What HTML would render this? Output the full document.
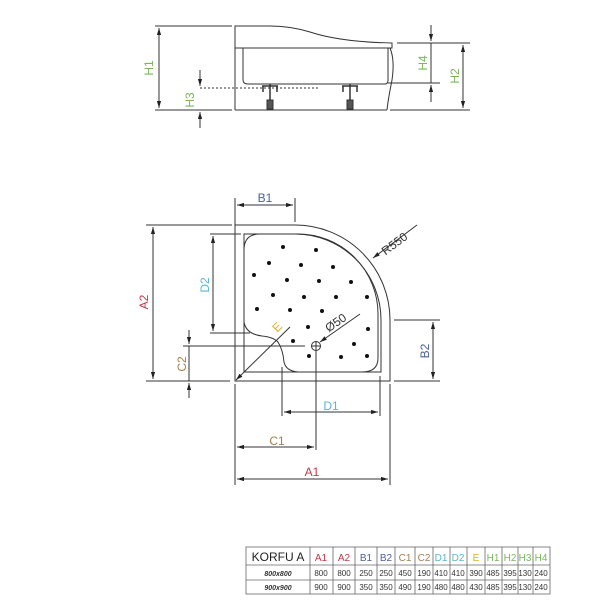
<!DOCTYPE html>
<html><head><style>body{margin:0;background:#fff}svg{display:block}</style></head><body>
<svg width="600" height="600" viewBox="0 0 600 600" xmlns="http://www.w3.org/2000/svg" font-family="Liberation Sans, sans-serif">
<defs>
<marker id="a" viewBox="0 0 10 10" refX="10" refY="5" markerWidth="7" markerHeight="7" orient="auto-start-reverse"><path d="M0,2 L10,5 L0,8 z" fill="#222"/></marker>
</defs>
<g stroke="#333" stroke-width="1" fill="none">
<path d="M235,26 L235,48 L392,48 L392,43 Q340,42 310,32 Q290,26 270,26 Z" fill="#fff"/>
<path d="M243,48 L243,80 Q243,84 248,84 L385,84 Q388,84 388,80 L388,48"/>
<path d="M390,48 Q395,60 392,80 Q388,100 387,110"/>
<line x1="235" y1="110" x2="387" y2="110"/>
<line x1="235" y1="48" x2="235" y2="110"/>
<line x1="155" y1="26" x2="232" y2="26"/>
<line x1="155" y1="110" x2="232" y2="110"/>
<line x1="159" y1="28" x2="159" y2="108" marker-start="url(#a)" marker-end="url(#a)"/>
<line x1="200" y1="70" x2="200" y2="86" marker-end="url(#a)"/>
<line x1="200" y1="128" x2="200" y2="112" marker-end="url(#a)"/>
<line x1="200" y1="88" x2="320" y2="88" stroke-dasharray="2,2"/>
<line x1="397" y1="43" x2="470" y2="43"/>
<line x1="388" y1="83" x2="440" y2="83"/>
<line x1="390" y1="110" x2="470" y2="110"/>
<line x1="431" y1="25" x2="431" y2="41" marker-end="url(#a)"/>
<line x1="431" y1="102" x2="431" y2="85" marker-end="url(#a)"/>
<line x1="431" y1="43" x2="431" y2="83"/>
<line x1="463" y1="45" x2="463" y2="108" marker-start="url(#a)" marker-end="url(#a)"/>
<g stroke="#333" stroke-width="1.5">
<line x1="270" y1="84" x2="270" y2="108"/><line x1="263" y1="86" x2="263" y2="92"/><line x1="277" y1="86" x2="277" y2="92"/><line x1="262" y1="86" x2="278" y2="86"/>
<line x1="350" y1="84" x2="350" y2="108"/><line x1="343" y1="86" x2="343" y2="92"/><line x1="357" y1="86" x2="357" y2="92"/><line x1="342" y1="86" x2="358" y2="86"/>
</g>
<rect x="267" y="100" width="6" height="9" fill="#555"/><rect x="347" y="100" width="6" height="9" fill="#555"/>

<path d="M235,225 L295,225 A95,95 0 0 1 390,320 L390,381 L235,381 Z"/>
<path d="M244,234 L295,234 A86,86 0 0 1 381,320 L381,372 L244,372 Z"/>
<path d="M260,234 L298,234 A80,80 0 0 1 378,314 L378,358 Q378,372 362,372 L298,372 Q286,371 284,362 Q283,350 278,342 Q273,337 262,336 Q246,334 244,322 L244,250 Q244,234 260,234 Z"/>
<line x1="235" y1="198" x2="235" y2="225"/>
<line x1="295" y1="198" x2="295" y2="222"/>
<line x1="237" y1="205" x2="293" y2="205" marker-start="url(#a)" marker-end="url(#a)"/>
<line x1="146" y1="225" x2="232" y2="225"/>
<line x1="146" y1="381" x2="230" y2="381"/>
<line x1="153" y1="227" x2="153" y2="379" marker-start="url(#a)" marker-end="url(#a)"/>
<line x1="210" y1="234" x2="241" y2="234"/>
<line x1="210" y1="333" x2="250" y2="333"/>
<line x1="213" y1="236" x2="213" y2="331" marker-start="url(#a)" marker-end="url(#a)"/>
<line x1="183" y1="346" x2="305" y2="346"/>
<line x1="189" y1="330" x2="189" y2="344" marker-end="url(#a)"/>
<line x1="189" y1="398" x2="189" y2="383" marker-end="url(#a)"/>
<line x1="189" y1="346" x2="189" y2="381"/>
<line x1="236" y1="380" x2="290" y2="327" marker-start="url(#a)"/>
<line x1="360" y1="314" x2="320" y2="342" marker-end="url(#a)"/>
<circle cx="316" cy="346" r="4.5"/>
<line x1="311" y1="346" x2="321" y2="346"/><line x1="316" y1="341" x2="316" y2="351"/>
<line x1="417" y1="225" x2="373" y2="258" marker-end="url(#a)"/>
<line x1="394" y1="320" x2="440" y2="320"/>
<line x1="394" y1="381" x2="440" y2="381"/>
<line x1="433" y1="322" x2="433" y2="379" marker-start="url(#a)" marker-end="url(#a)"/>
<line x1="282" y1="367" x2="282" y2="416"/>
<line x1="380" y1="376" x2="380" y2="416"/>
<line x1="284" y1="412" x2="378" y2="412" marker-start="url(#a)" marker-end="url(#a)"/>
<line x1="316" y1="351" x2="316" y2="450"/>
<line x1="235" y1="384" x2="235" y2="485"/>
<line x1="390" y1="384" x2="390" y2="485"/>
<line x1="237" y1="447" x2="314" y2="447" marker-start="url(#a)" marker-end="url(#a)"/>
<line x1="237" y1="479" x2="388" y2="479" marker-start="url(#a)" marker-end="url(#a)"/>
</g>
<g fill="#111">
<circle cx="283" cy="247" r="2"/><circle cx="316" cy="250" r="2"/><circle cx="269" cy="263" r="2"/><circle cx="301" cy="265" r="2"/><circle cx="333" cy="267" r="2"/><circle cx="254" cy="275" r="2"/><circle cx="287" cy="280" r="2"/><circle cx="319" cy="281" r="2"/><circle cx="351" cy="282" r="2"/><circle cx="273" cy="295" r="2"/><circle cx="304" cy="297" r="2"/><circle cx="336" cy="297" r="2"/><circle cx="367" cy="297" r="2"/><circle cx="257" cy="309" r="2"/><circle cx="290" cy="310" r="2"/><circle cx="322" cy="311" r="2"/><circle cx="308" cy="327" r="2"/><circle cx="368" cy="329" r="2"/><circle cx="293" cy="341" r="2"/><circle cx="354" cy="344" r="2"/><circle cx="309" cy="356" r="2"/><circle cx="341" cy="357" r="2"/><circle cx="367" cy="356" r="2"/>
</g>
<g font-size="12">
<text transform="translate(153,68) rotate(-90)" text-anchor="middle" fill="#7ab55c">H1</text>
<text transform="translate(194,100) rotate(-90)" text-anchor="middle" fill="#7ab55c">H3</text>
<text transform="translate(427,63) rotate(-90)" text-anchor="middle" fill="#7ab55c">H4</text>
<text transform="translate(459,76) rotate(-90)" text-anchor="middle" fill="#7ab55c">H2</text>
<text x="265" y="202" text-anchor="middle" fill="#4a5fa0">B1</text>
<text transform="translate(148,302) rotate(-90)" text-anchor="middle" fill="#c0394b">A2</text>
<text transform="translate(209,285) rotate(-90)" text-anchor="middle" fill="#5ab4d0">D2</text>
<text transform="translate(186,364) rotate(-90)" text-anchor="middle" fill="#a08050">C2</text>
<text transform="translate(280,330) rotate(-45)" text-anchor="middle" fill="#e0b020">E</text>
<text transform="translate(338,326) rotate(-35)" text-anchor="middle" fill="#333">Ø50</text>
<text transform="translate(397,247) rotate(-37)" text-anchor="middle" fill="#333">R550</text>
<text transform="translate(429,351) rotate(-90)" text-anchor="middle" fill="#4a5fa0">B2</text>
<text x="331" y="410" text-anchor="middle" fill="#5ab4d0">D1</text>
<text x="277" y="445" text-anchor="middle" fill="#a08050">C1</text>
<text x="312" y="476" text-anchor="middle" fill="#c0394b">A1</text>
</g>
<g stroke="#666" stroke-width="0.8" fill="none">
<rect x="246" y="547" width="304" height="47"/>
<line x1="246" y1="565" x2="550" y2="565"/><line x1="246" y1="580" x2="550" y2="580"/>
<line x1="310" y1="547" x2="310" y2="594"/><line x1="333" y1="547" x2="333" y2="594"/><line x1="355" y1="547" x2="355" y2="594"/><line x1="377" y1="547" x2="377" y2="594"/><line x1="395" y1="547" x2="395" y2="594"/><line x1="415" y1="547" x2="415" y2="594"/><line x1="433" y1="547" x2="433" y2="594"/><line x1="450" y1="547" x2="450" y2="594"/><line x1="467" y1="547" x2="467" y2="594"/><line x1="485" y1="547" x2="485" y2="594"/><line x1="502" y1="547" x2="502" y2="594"/><line x1="518" y1="547" x2="518" y2="594"/><line x1="533" y1="547" x2="533" y2="594"/>
</g>
<g font-size="10" text-anchor="middle">
<text x="278" y="561" font-size="12" fill="#222">KORFU A</text>
<text x="321" y="561" fill="#c0394b">A1</text><text x="344" y="561" fill="#c0394b">A2</text>
<text x="366" y="561" fill="#4a5fa0">B1</text><text x="386" y="561" fill="#4a5fa0">B2</text>
<text x="405" y="561" fill="#a08050">C1</text><text x="424" y="561" fill="#a08050">C2</text>
<text x="441" y="561" fill="#5ab4d0">D1</text><text x="458" y="561" fill="#5ab4d0">D2</text>
<text x="476" y="561" fill="#e0b020">E</text>
<text x="493" y="561" fill="#7ab55c">H1</text><text x="510" y="561" fill="#7ab55c">H2</text><text x="525" y="561" fill="#7ab55c">H3</text><text x="541" y="561" fill="#7ab55c">H4</text>
</g>
<g font-size="8" text-anchor="middle" fill="#333">
<text x="278" y="576" font-style="italic" font-weight="bold" font-size="7">800x800</text>
<text x="321" y="576">800</text><text x="344" y="576">800</text><text x="366" y="576">250</text><text x="386" y="576">250</text><text x="405" y="576">450</text><text x="424" y="576">190</text><text x="441" y="576">410</text><text x="458" y="576">410</text><text x="476" y="576">390</text><text x="493" y="576">485</text><text x="510" y="576">395</text><text x="525" y="576">130</text><text x="541" y="576">240</text>
<text x="278" y="590" font-style="italic" font-weight="bold" font-size="7">900x900</text>
<text x="321" y="590">900</text><text x="344" y="590">900</text><text x="366" y="590">350</text><text x="386" y="590">350</text><text x="405" y="590">490</text><text x="424" y="590">190</text><text x="441" y="590">480</text><text x="458" y="590">480</text><text x="476" y="590">430</text><text x="493" y="590">485</text><text x="510" y="590">395</text><text x="525" y="590">130</text><text x="541" y="590">240</text>
</g>
</svg>
</body></html>
